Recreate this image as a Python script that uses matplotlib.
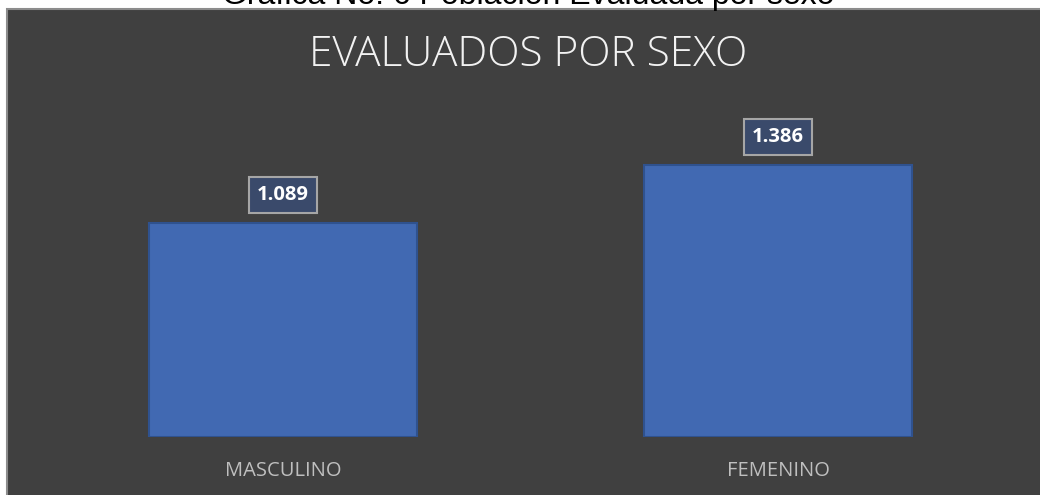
import matplotlib
matplotlib.use('Agg')
import matplotlib.pyplot as plt
from matplotlib.patches import Rectangle

# data
categories = ['MASCULINO', 'FEMENINO']
values = [1089, 1386]
value_labels = ['1.089', '1.386']

chart_title = 'EVALUADOS POR SEXO'
caption = 'Gráfica No. 6 Población Evaluada por sexo'

panel_bg = '#404040'
bar_color = '#4169B2'
bar_edge = '#2F528F'

fig = plt.figure(figsize=(10.4, 4.95), dpi=100)
fig.patch.set_facecolor('white')

# dark chart panel as a background axes
bg = fig.add_axes([0, 0, 1, 1], zorder=-5)
bg.set_xlim(0, 1040)
bg.set_ylim(495, 0)
bg.axis('off')
bg.add_patch(Rectangle((6.5, 9), 1040, 490, facecolor=panel_bg,
                       edgecolor='#8C8C8C', linewidth=1.5))

# caption above the panel (cut at top, as in the source)
fig.text(528 / 1040, 1 - 4 / 495, caption, ha='center', va='baseline',
         fontsize=23, family='Liberation Sans', color='black', zorder=10)

fig.text(528 / 1040, 1 - 55 / 495, chart_title, ha='center', va='center',
         fontsize=30.5, family='Open Sans', fontweight='light', color='#F2F2F2')

# axes: 0 at y=437px, x positions 0 and 1 at 283px and 778px
ax = fig.add_axes([35.5 / 1040, 58 / 495, 990 / 1040, (437 - 100) / 495])
ax.patch.set_alpha(0)
ax.set_xlim(-0.5, 1.5)
px_per_unit = 214 / 1089
ax.set_ylim(0, (437 - 100) / px_per_unit)

x = range(len(categories))
bars = ax.bar(x, values, width=0.54, color=bar_color, edgecolor=bar_edge, linewidth=1.5)

for b, lab in zip(bars, value_labels):
    cx = b.get_x() + b.get_width() / 2
    ax.annotate(lab, (cx, b.get_height()), xytext=(0, 20), textcoords='offset points',
                ha='center', va='center', fontsize=14.5, fontweight='bold',
                color='white', family='Open Sans',
                bbox=dict(boxstyle='square,pad=0.4', facecolor='#3A4A6B',
                          edgecolor='#A6A6A6', linewidth=1.5))

ax.set_xticks(list(x))
ax.set_xticklabels(categories, fontsize=14.5, color='#BFBFBF', family='Open Sans')
ax.tick_params(axis='x', length=0, pad=17)
ax.set_yticks([])
for s in ax.spines.values():
    s.set_visible(False)

fig.savefig('out.png', dpi=100, facecolor='white')
